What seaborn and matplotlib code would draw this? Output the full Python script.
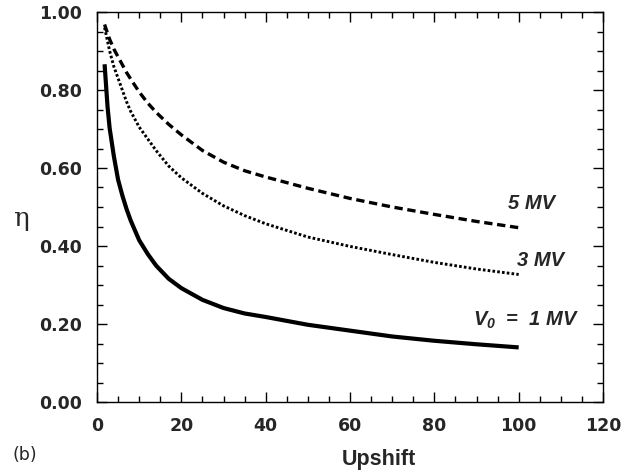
import matplotlib
matplotlib.use("Agg")
import matplotlib.pyplot as plt
import seaborn as sns
import numpy as np
from matplotlib.ticker import MultipleLocator, FormatStrFormatter

sns.set_theme(style="white")
plt.rcParams['font.family'] = ['DejaVu Sans']
plt.rcParams['mathtext.fontset'] = 'custom'
plt.rcParams['mathtext.it'] = 'Liberation Sans:bold:italic'
plt.rcParams['mathtext.rm'] = 'Liberation Sans:bold:italic'

# Data
upshift = [1.8, 2.5, 3, 4, 5, 6, 7, 8, 10, 12, 14, 17, 20, 25, 30, 35, 40,
           50, 60, 70, 80, 90, 100]
eta_1mv = [0.866, 0.757, 0.702, 0.63, 0.57, 0.53, 0.495, 0.465, 0.415, 0.38,
           0.35, 0.316, 0.292, 0.262, 0.241, 0.227, 0.218, 0.198, 0.183,
           0.168, 0.157, 0.148, 0.140]
eta_3mv = [0.96, 0.925, 0.90, 0.86, 0.83, 0.80, 0.77, 0.745, 0.705, 0.675,
           0.645, 0.605, 0.575, 0.535, 0.503, 0.478, 0.457, 0.423, 0.399,
           0.378, 0.358, 0.341, 0.327]
eta_5mv = [0.968, 0.945, 0.93, 0.905, 0.885, 0.865, 0.845, 0.828, 0.795,
           0.767, 0.743, 0.712, 0.685, 0.645, 0.615, 0.593, 0.577, 0.548,
           0.522, 0.500, 0.481, 0.463, 0.447]
labels = ["5 MV", "3 MV", "$V_{0}$  =  1 MV"]
x_ticks = [0, 20, 40, 60, 80, 100, 120]
y_ticks = [0.0, 0.2, 0.4, 0.6, 0.8, 1.0]

fig = plt.figure(figsize=(6.36, 4.73), dpi=100)
ax = fig.add_axes([97/636, 1-402/473, 506/636, 390/473])

sns.lineplot(x=upshift, y=eta_1mv, ax=ax, color='black', lw=3.0)
sns.lineplot(x=upshift, y=eta_3mv, ax=ax, color='black', lw=2.1)
ax.lines[-1].set_dashes((0.9, 0.75))
sns.lineplot(x=upshift, y=eta_5mv, ax=ax, color='black', lw=2.4)
ax.lines[-1].set_dashes((2.5, 1.4))
for ln in ax.lines:
    ln.set_dash_capstyle('butt')
    ln.set_solid_capstyle('butt')

ax.set_xlim(0, 120)
ax.set_ylim(0, 1.0)
ax.set_xticks(x_ticks)
ax.set_yticks(y_ticks)
ax.xaxis.set_minor_locator(MultipleLocator(5))
ax.yaxis.set_minor_locator(MultipleLocator(0.05))
ax.yaxis.set_major_formatter(FormatStrFormatter('%.2f'))
ax.tick_params(which='both', direction='in', top=True, right=True,
               bottom=True, left=True, color='black')
ax.tick_params(which='major', length=7, width=1, labelsize=12.5, pad=11)
ax.tick_params(which='minor', length=4, width=1)
for t in ax.get_xticklabels() + ax.get_yticklabels():
    t.set_fontweight('bold')
for s in ax.spines.values():
    s.set_visible(True)
    s.set_color('black')
    s.set_linewidth(1.0)

tkw = dict(fontsize=14.5, fontweight='bold', fontstyle='italic',
           family='Liberation Sans', va='center', ha='left')
ax.text(97.5, 0.51, labels[0], **tkw)
ax.text(99.6, 0.363, labels[1], **tkw)
ax.text(89.2, 0.21, labels[2], **tkw)

ax.set_xlabel('Upshift', fontsize=15.5, fontweight='bold',
              family='Liberation Sans')
ax.xaxis.set_label_coords(0.557, -0.12)
ax.set_ylabel('η', rotation=0, fontsize=19, family='DejaVu Serif',
              va='center', ha='center')
ax.yaxis.set_label_coords(-0.15, 0.47)

fig.text(13/636, 1-464/473, '(b)', fontsize=12.5, va='bottom', ha='left')

fig.savefig('out.png', dpi=100, facecolor='white')
